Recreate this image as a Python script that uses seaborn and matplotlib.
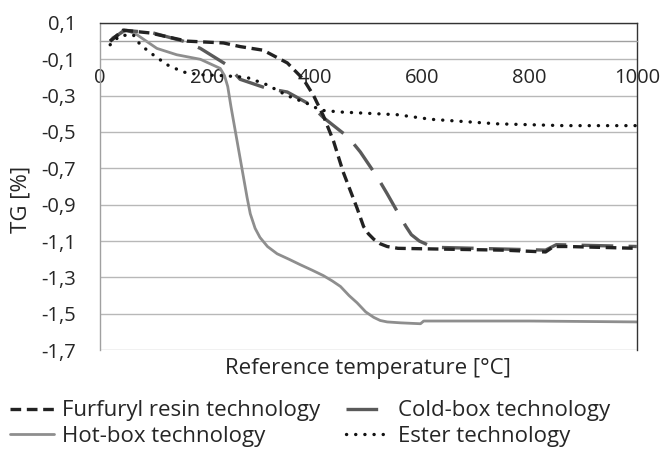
import numpy as np
import pandas as pd
import matplotlib
matplotlib.use('Agg')
import matplotlib.pyplot as plt
from matplotlib.ticker import FuncFormatter
import seaborn as sns


# Values
furfuryl_t = [19, 43, 93, 162, 230, 261, 304, 349, 379, 398, 416, 435, 453,
              479, 491, 500, 510, 522, 535, 555, 650, 750, 830, 845, 870,
              1000]
furfuryl_tg = [0.0, 0.06, 0.045, 0.0, -0.01, -0.03, -0.05, -0.12, -0.21,
               -0.30, -0.41, -0.55, -0.72, -0.92, -1.02, -1.06, -1.09,
               -1.115, -1.13, -1.14, -1.145, -1.15, -1.16, -1.13, -1.13,
               -1.14]

coldbox_t = [19, 45, 99, 155, 187, 236, 261, 311, 349, 392, 416, 463, 485,
             517, 535, 560, 570, 580, 595, 610, 630, 700, 830, 850, 1000]
coldbox_tg = [0.0, 0.06, 0.045, 0.0, -0.04, -0.13, -0.21, -0.26, -0.28,
              -0.35, -0.42, -0.53, -0.61, -0.75, -0.84, -0.97, -1.02,
              -1.065, -1.10, -1.12, -1.135, -1.14, -1.15, -1.12, -1.13]

hotbox_t = [19, 24, 50, 69, 106, 143, 187, 224, 232, 238, 244, 250, 256,
            262, 268, 274, 280, 289, 298, 312, 330, 352, 373, 395, 416, 433,
            448, 464, 479, 495, 510, 522, 535, 560, 597, 603, 800, 1000]
hotbox_tg = [0.0, 0.02, 0.06, 0.035, -0.04, -0.075, -0.10, -0.15, -0.19,
             -0.25, -0.36, -0.46, -0.56, -0.66, -0.76, -0.86, -0.95, -1.03,
             -1.08, -1.13, -1.17, -1.20, -1.23, -1.26, -1.29, -1.32, -1.35,
             -1.40, -1.44, -1.49, -1.52, -1.537, -1.545, -1.55, -1.555,
             -1.54, -1.54, -1.545]

ester_t = [19, 37, 62, 75, 99, 125, 155, 187, 230, 274, 311, 349, 392, 410,
           448, 554, 616, 740, 864, 1000]
ester_tg = [-0.02, 0.03, 0.035, -0.02, -0.075, -0.13, -0.17, -0.185, -0.19,
            -0.20, -0.24, -0.30, -0.35, -0.38, -0.39, -0.405, -0.43, -0.455,
            -0.465, -0.465]

ytick_vals = [0.1, -0.1, -0.3, -0.5, -0.7, -0.9, -1.1, -1.3, -1.5, -1.7]
xtick_vals = [0, 200, 400, 600, 800, 1000]


sns.set_style('white')
plt.rcParams['font.family'] = ['Open Sans', 'DejaVu Sans']

fig = plt.figure(figsize=(6.62, 4.5), dpi=100)
ax = fig.add_axes([0.151, 0.222, 0.811, 0.727])

sns.lineplot(x=furfuryl_t, y=furfuryl_tg, color='#222222', lw=2.4,
             ls=(0, (3.2, 1.7)), label='Furfuryl resin technology',
             zorder=4, ax=ax)
sns.lineplot(x=coldbox_t, y=coldbox_tg, color='#5a5a5a', lw=2.4,
             ls=(0, (9.5, 4.6)), label='Cold-box technology', zorder=3,
             ax=ax)
sns.lineplot(x=hotbox_t, y=hotbox_tg, color='#8e8e8e', lw=2.0,
             label='Hot-box technology', zorder=2, ax=ax)
sns.lineplot(x=ester_t, y=ester_tg, color='#111111', lw=2.4,
             ls=(0, (0.05, 2.7)), dash_capstyle='round',
             label='Ester technology', zorder=5, ax=ax)

# Axis ranges, grid and the x axis crossing at zero
ax.set_xlim(0, 1000)
ax.set_ylim(-1.7, 0.1)
ax.set_yticks(ytick_vals)
ax.set_xticks(xtick_vals)
ax.yaxis.set_major_formatter(FuncFormatter(
    lambda v, p: f'{v:.1f}'.replace('.', ',')))
ax.grid(axis='y', color='#b8b8b8', lw=1.0)
ax.set_axisbelow(True)

ax.spines['bottom'].set_position(('data', 0))
ax.spines['bottom'].set_color('#a0a0a0')
ax.spines['left'].set_color('#a0a0a0')
ax.spines['top'].set_color('#333333')
ax.spines['right'].set_color('#333333')
for s in ax.spines.values():
    s.set_linewidth(1.0)
ax.tick_params(axis='x', direction='out', length=6, color='#a0a0a0',
               pad=13, labelsize=14.5)
ax.tick_params(axis='y', direction='out', length=6, color='#a0a0a0',
               pad=11, labelsize=14.5)

ax.set_ylabel('TG [%]', fontsize=16, labelpad=0)
ax.yaxis.set_label_coords(-0.128, 0.46)
ax.set_xlabel('Reference temperature [°C]', fontsize=16)
ax.xaxis.set_label_coords(0.5, -0.025)

# Legend under the plot, filled column by column
handles, labels = ax.get_legend_handles_labels()
ax.get_legend().remove()
order = [0, 2, 1, 3]
fig.legend([handles[i] for i in order], [labels[i] for i in order],
           ncol=2, loc='lower left', bbox_to_anchor=(0.0, -0.015),
           frameon=False, fontsize=16, handlelength=2.0,
           handletextpad=0.35, columnspacing=1.15, labelspacing=0.2,
           borderaxespad=0.2, borderpad=0.25)

fig.savefig('out.png', dpi=100)
